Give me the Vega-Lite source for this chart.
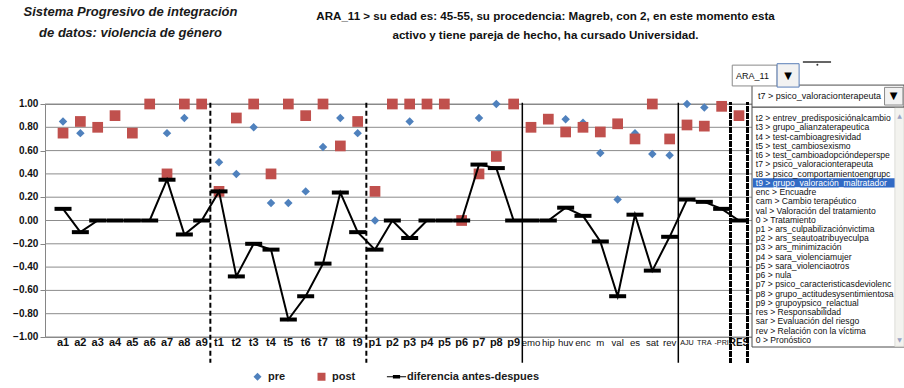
{
  "$schema": "https://vega.github.io/schema/vega-lite/v6.json",
  "width": 712,
  "height": 233,
  "autosize": {"type": "none"},
  "padding": {"left": 45, "top": 104, "right": 147, "bottom": 51},
  "background": "white",
  "config": {
    "font": "Liberation Sans",
    "view": {"stroke": "#868686", "strokeWidth": 1}
  },
  "datasets": {
    "puntuaciones": [
      {"cat": "a1", "pre": 0.85, "post": 0.75, "dif": 0.10},
      {"cat": "a2", "pre": 0.75, "post": 0.85, "dif": -0.10},
      {"cat": "a3", "pre": 0.80, "post": 0.80, "dif": 0},
      {"cat": "a4", "pre": 0.90, "post": 0.90, "dif": 0},
      {"cat": "a5", "pre": 0.75, "post": 0.75, "dif": 0},
      {"cat": "a6", "pre": 1.00, "post": 1.00, "dif": 0},
      {"cat": "a7", "pre": 0.75, "post": 0.40, "dif": 0.35},
      {"cat": "a8", "pre": 0.88, "post": 1.00, "dif": -0.12},
      {"cat": "a9", "pre": 1.00, "post": 1.00, "dif": 0},
      {"cat": "t1", "pre": 0.50, "post": 0.25, "dif": 0.25},
      {"cat": "t2", "pre": 0.40, "post": 0.88, "dif": -0.48},
      {"cat": "t3", "pre": 0.80, "post": 1.00, "dif": -0.20},
      {"cat": "t4", "pre": 0.15, "post": 0.40, "dif": -0.25},
      {"cat": "t5", "pre": 0.15, "post": 1.00, "dif": -0.85},
      {"cat": "t6", "pre": 0.25, "post": 0.90, "dif": -0.65},
      {"cat": "t7", "pre": 0.63, "post": 1.00, "dif": -0.37},
      {"cat": "t8", "pre": 0.88, "post": 0.64, "dif": 0.24},
      {"cat": "t9", "pre": 0.75, "post": 0.85, "dif": -0.10},
      {"cat": "p1", "pre": 0.00, "post": 0.25, "dif": -0.25},
      {"cat": "p2", "pre": 1.00, "post": 1.00, "dif": 0},
      {"cat": "p3", "pre": 0.85, "post": 1.00, "dif": -0.15},
      {"cat": "p4", "pre": 1.00, "post": 1.00, "dif": 0},
      {"cat": "p5", "pre": 1.00, "post": 1.00, "dif": 0},
      {"cat": "p6", "pre": 0.00, "post": 0.00, "dif": 0},
      {"cat": "p7", "pre": 0.88, "post": 0.40, "dif": 0.48},
      {"cat": "p8", "pre": 1.00, "post": 0.55, "dif": 0.45},
      {"cat": "p9", "pre": 1.00, "post": 1.00, "dif": 0},
      {"cat": "emo", "pre": 0.80, "post": 0.80, "dif": 0},
      {"cat": "hip", "pre": 0.87, "post": 0.87, "dif": 0},
      {"cat": "huv", "pre": 0.87, "post": 0.76, "dif": 0.11},
      {"cat": "enc", "pre": 0.84, "post": 0.80, "dif": 0.04},
      {"cat": "m", "pre": 0.58, "post": 0.76, "dif": -0.18},
      {"cat": "val", "pre": 0.18, "post": 0.83, "dif": -0.65},
      {"cat": "es", "pre": 0.75, "post": 0.70, "dif": 0.05},
      {"cat": "sat", "pre": 0.57, "post": 1.00, "dif": -0.43},
      {"cat": "rev", "pre": 0.56, "post": 0.70, "dif": -0.14},
      {"cat": "AJU", "pre": 1.00, "post": 0.82, "dif": 0.18},
      {"cat": "TRA", "pre": 0.97, "post": 0.81, "dif": 0.16},
      {"cat": "-PRI", "pre": null, "post": 0.98, "dif": 0.10},
      {"cat": "RES", "pre": 0.90, "post": 0.90, "dif": 0}
    ],
    "marcas": [
      {"marca": 1}, {"marca": 0.8}, {"marca": 0.6}, {"marca": 0.4}, {"marca": 0.2}, {"marca": 0},
      {"marca": -0.2}, {"marca": -0.4}, {"marca": -0.6}, {"marca": -0.8}, {"marca": -1}
    ],
    "items": [
      {"item": "t2 > entrev_predisposiciónalcambio"},
      {"item": "t3 > grupo_alianzaterapeutica"},
      {"item": "t4 > test-cambioagresividad"},
      {"item": "t5 > test_cambiosexismo"},
      {"item": "t6 > test_cambioadopcióndeperspe"},
      {"item": "t7 > psico_valoracionterapeuta"},
      {"item": "t8 > psico_comportamientoengrupc"},
      {"item": "t9 > grupo_valoración_maltratador"},
      {"item": "enc > Encuadre"},
      {"item": "cam > Cambio terapéutico"},
      {"item": "val > Valoración del tratamiento"},
      {"item": "0 > Tratamiento"},
      {"item": "p1 > ars_culpabilizaciónvictima"},
      {"item": "p2 > ars_seautoatribuyeculpa"},
      {"item": "p3 > ars_minimización"},
      {"item": "p4 > sara_violenciamujer"},
      {"item": "p5 > sara_violenciaotros"},
      {"item": "p6 > nula"},
      {"item": "p7 > psico_caracteristicasdeviolenc"},
      {"item": "p8 > grupo_actitudesysentimientosa"},
      {"item": "p9 > grupoypsico_relactual"},
      {"item": "res > Responsabilidad"},
      {"item": "sar > Evaluación del riesgo"},
      {"item": "rev > Relación con la víctima"},
      {"item": "0 > Pronóstico"}
    ]
  },
  "resolve": {
    "scale": {"x": "independent", "y": "independent"},
    "axis": {"x": "independent", "y": "independent"}
  },
  "layer": [
    {
      "data": {"name": "puntuaciones"},
      "layer": [
        {
          "data": {"name": "marcas"},
          "mark": {"type": "rule", "color": "#8c8c8c", "strokeWidth": 1},
          "encoding": {
            "x": {"value": 0},
            "x2": {"value": "width"},
            "y": {
              "field": "marca",
              "type": "quantitative",
              "scale": {"domain": [-1, 1], "nice": false, "zero": false},
              "axis": {
                "title": ["Sistema Progresivo de integración", "de datos: violencia de género"],
                "titleAngle": 0,
                "titleX": 85,
                "titleY": -99,
                "titleAlign": "center",
                "titleBaseline": "top",
                "titleLineHeight": 21,
                "titleFontSize": 13,
                "titleFontStyle": "italic",
                "titleFontWeight": "bold",
                "titleColor": "#1a1a1a",
                "values": [1, 0.8, 0.6, 0.4, 0.2, 0, -0.2, -0.4, -0.6, -0.8, -1],
                "labels": false,
                "tickSize": 5,
                "tickColor": "#868686",
                "domain": false,
                "grid": false
              }
            }
          }
        },
        {
          "data": {"name": "marcas"},
          "mark": {"type": "text", "align": "right", "baseline": "middle", "dx": -16, "fontSize": 10, "fontWeight": "bold", "color": "#111111"},
          "encoding": {
            "x": {"datum": "a1", "bandPosition": 0},
            "y": {"field": "marca", "type": "quantitative"},
            "text": {"field": "marca", "type": "quantitative", "format": ".2f"}
          }
        },
        {
          "transform": [{"fold": ["pre", "post"], "as": ["serie", "valor"]}],
          "mark": {"type": "point", "filled": true, "opacity": 1},
          "encoding": {
            "x": {
              "field": "cat",
              "type": "nominal",
              "scale": {
                "type": "band",
                "domain": ["a1", "a2", "a3", "a4", "a5", "a6", "a7", "a8", "a9", "t1", "t2", "t3", "t4", "t5", "t6", "t7", "t8", "t9", "p1", "p2", "p3", "p4", "p5", "p6", "p7", "p8", "p9", "emo", "hip", "huv", "enc", "m", "val", "es", "sat", "rev", "AJU", "TRA", "-PRI", "RES"],
                "paddingInner": 0,
                "paddingOuter": 0.54
              },
              "axis": {
                "bandPosition": 0.5,
                "title": ["ARA_11 > su edad es: 45-55,  su procedencia: Magreb, con 2, en este momento esta", "activo y tiene pareja de hecho, ha cursado Universidad."],
                "titleX": 500,
                "titleY": -327,
                "titleAlign": "center",
                "titleBaseline": "top",
                "titleLineHeight": 19,
                "titleFontSize": 11.6,
                "titleFontWeight": "bold",
                "titleColor": "#111111",
                "labelAngle": 0,
                "labelAlign": "center",
                "labelOverlap": false,
                "labelPadding": 5,
                "labelColor": "#111111",
                "labelFontSize": {"condition": [
                  {"test": "datum.value == 'AJU' || datum.value == 'TRA' || datum.value == '-PRI'", "value": 7.2},
                  {"test": "datum.value == 'emo' || datum.value == 'hip' || datum.value == 'huv' || datum.value == 'enc' || datum.value == 'm' || datum.value == 'val' || datum.value == 'es' || datum.value == 'sat' || datum.value == 'rev'", "value": 9.6},
                  {"test": "datum.value == 'RES'", "value": 10}
                ], "value": 11},
                "labelFontWeight": {"condition": {"test": "datum.value == 'emo' || datum.value == 'hip' || datum.value == 'huv' || datum.value == 'enc' || datum.value == 'm' || datum.value == 'val' || datum.value == 'es' || datum.value == 'sat' || datum.value == 'rev' || datum.value == 'AJU' || datum.value == 'TRA' || datum.value == '-PRI'", "value": "normal"}, "value": "bold"},
                "ticks": false,
                "grid": false,
                "domain": false
              }
            },
            "y": {"field": "valor", "type": "quantitative"},
            "color": {
              "field": "serie",
              "type": "nominal",
              "scale": {"domain": ["pre", "post", "diferencia antes-despues"], "range": ["#4f81bd", "#c0504d", "#000000"]},
              "legend": {"orient": "none", "legendX": 207, "legendY": 267, "direction": "horizontal", "title": null, "labelFontSize": 11, "labelFontWeight": "bold", "labelColor": "#1a1a1a", "symbolSize": 64, "labelOffset": 5, "columnPadding": 30}
            },
            "shape": {
              "field": "serie",
              "type": "nominal",
              "scale": {"domain": ["pre", "post", "diferencia antes-despues"], "range": ["diamond", "square", "M-2.4,-0.15H2.4V0.15H-2.4Z M-0.9,-0.45H0.9V0.45H-0.9Z"]},
              "legend": {"orient": "none", "legendX": 207, "legendY": 267, "direction": "horizontal", "title": null, "labelFontSize": 11, "labelFontWeight": "bold", "labelColor": "#1a1a1a", "symbolSize": 64, "labelOffset": 5, "columnPadding": 30}
            },
            "size": {"condition": {"test": "datum.serie == 'pre'", "value": 72}, "value": 115}
          }
        },
        {
          "data": {"values": [{"antes": "t1"}, {"antes": "p1"}]},
          "mark": {"type": "rule", "color": "#000000", "strokeWidth": 2, "strokeDash": [5, 3]},
          "encoding": {
            "x": {"field": "antes", "type": "nominal", "bandPosition": 0},
            "y": {"datum": 1.01, "type": "quantitative"},
            "y2": {"datum": -1.22}
          }
        },
        {
          "data": {"values": [{"antes": "emo"}, {"antes": "AJU"}]},
          "mark": {"type": "rule", "color": "#000000", "strokeWidth": 1.5},
          "encoding": {
            "x": {"field": "antes", "type": "nominal", "bandPosition": 0},
            "y": {"datum": 1.01, "type": "quantitative"},
            "y2": {"datum": -1.22}
          }
        },
        {
          "mark": {"type": "rule", "color": "#000000", "strokeWidth": 2, "strokeDash": [2, 1.5]},
          "encoding": {
            "x": {"datum": "RES", "bandPosition": 0},
            "y": {"datum": 1.01, "type": "quantitative"},
            "y2": {"datum": -1.22}
          }
        },
        {
          "mark": {"type": "rule", "color": "#000000", "strokeWidth": 2, "strokeDash": [2, 1.5]},
          "encoding": {
            "x": {"datum": "RES", "bandPosition": 1},
            "y": {"datum": 1.01, "type": "quantitative"},
            "y2": {"datum": -1.22}
          }
        },
        {
          "mark": {"type": "line", "color": "#000000", "strokeWidth": 2},
          "encoding": {
            "x": {"field": "cat", "type": "nominal"},
            "y": {"field": "dif", "type": "quantitative"}
          }
        },
        {
          "mark": {"type": "tick", "color": "#000000", "size": 17, "thickness": 4, "opacity": 1},
          "encoding": {
            "x": {"field": "cat", "type": "nominal"},
            "y": {"field": "dif", "type": "quantitative"}
          }
        }
      ]
    },
    {
      "data": {"values": [{}]},
      "encoding": {
        "x": {"datum": 0, "type": "quantitative", "scale": {"domain": [0, 1], "range": [707, 859], "nice": false, "zero": false}, "axis": null},
        "y": {"datum": 0, "type": "quantitative", "scale": {"domain": [0, 1], "range": [-42, 243], "nice": false, "zero": false}, "axis": null}
      },
      "layer": [
        {
          "mark": {"type": "rect", "fill": "white", "stroke": "#4d4d4d", "strokeWidth": 1},
          "encoding": {"x": {"datum": 0}, "x2": {"datum": 1}, "y": {"datum": 0.158}, "y2": {"datum": 1}}
        },
        {
          "mark": {"type": "rect", "fill": "#f3f3ef", "stroke": "#d6d6d0", "strokeWidth": 0.8},
          "encoding": {"x": {"datum": 0.94}, "x2": {"datum": 1}, "y": {"datum": 0.16}, "y2": {"datum": 0.998}}
        },
        {
          "mark": {"type": "text", "font": "DejaVu Sans", "fontSize": 6, "color": "#9aa3c4", "align": "center", "baseline": "middle"},
          "encoding": {"x": {"datum": 0.97}, "y": {"datum": 0.19}, "text": {"value": "▲"}}
        },
        {
          "mark": {"type": "text", "font": "DejaVu Sans", "fontSize": 6, "color": "#9aa3c4", "align": "center", "baseline": "middle"},
          "encoding": {"x": {"datum": 0.97}, "y": {"datum": 0.975}, "text": {"value": "▼"}}
        },
        {
          "mark": {"type": "rect", "fill": "white", "stroke": "#4d4d4d", "strokeWidth": 1},
          "encoding": {"x": {"datum": 0}, "x2": {"datum": 1}, "y": {"datum": 0.081}, "y2": {"datum": 0.158}}
        },
        {
          "mark": {"type": "rect", "fill": "#f2f2f2", "stroke": "#8a8a8a", "strokeWidth": 1},
          "encoding": {"x": {"datum": 0.872}, "x2": {"datum": 0.993}, "y": {"datum": 0.089}, "y2": {"datum": 0.151}}
        },
        {
          "mark": {"type": "text", "font": "DejaVu Sans", "fontSize": 10, "color": "#000000", "align": "center", "baseline": "middle"},
          "encoding": {"x": {"datum": 0.932}, "y": {"datum": 0.121}, "text": {"value": "▼"}}
        },
        {
          "mark": {"type": "text", "fontSize": 9, "color": "#111111", "align": "left", "baseline": "middle"},
          "encoding": {"x": {"datum": 0.04}, "y": {"datum": 0.121}, "text": {"value": "t7 > psico_valoracionterapeuta"}}
        },
        {
          "mark": {"type": "rect", "fill": "white", "stroke": "#8a8a8a", "strokeWidth": 1},
          "encoding": {"x": {"datum": -0.13}, "x2": {"datum": 0.165}, "y": {"datum": 0.011}, "y2": {"datum": 0.084}}
        },
        {
          "mark": {"type": "rect", "fill": "#f2f2f2", "stroke": "#5b7fb8", "strokeWidth": 1},
          "encoding": {"x": {"datum": 0.165}, "x2": {"datum": 0.31}, "y": {"datum": 0.006}, "y2": {"datum": 0.088}}
        },
        {
          "mark": {"type": "text", "font": "DejaVu Sans", "fontSize": 10, "color": "#000000", "align": "center", "baseline": "middle"},
          "encoding": {"x": {"datum": 0.237}, "y": {"datum": 0.048}, "text": {"value": "▼"}}
        },
        {
          "mark": {"type": "text", "fontSize": 9, "color": "#111111", "align": "left", "baseline": "middle"},
          "encoding": {"x": {"datum": -0.105}, "y": {"datum": 0.048}, "text": {"value": "ARA_11"}}
        },
        {
          "data": {"values": [{"linea": 0.0}, {"linea": 0.02}]},
          "mark": {"type": "rule", "color": "#333333", "strokeWidth": 1},
          "encoding": {"x": {"datum": 0.335}, "x2": {"datum": 0.52}, "y": {"field": "linea", "type": "quantitative"}}
        },
        {
          "mark": {"type": "point", "filled": true, "color": "#333333", "size": 4, "opacity": 1},
          "encoding": {"x": {"datum": 0.43}, "y": {"datum": 0.01}}
        }
      ]
    },
    {
      "data": {"name": "items"},
      "encoding": {
        "x": {"datum": 0, "type": "quantitative", "scale": {"domain": [0, 1], "range": [707, 859], "nice": false, "zero": false}, "axis": null},
        "y": {"field": "item", "type": "nominal", "sort": null, "scale": {"type": "band", "range": [9.4, 240.6], "paddingInner": 0, "paddingOuter": 0}, "axis": null}
      },
      "layer": [
        {
          "mark": {"type": "rect", "fill": "#316ac5"},
          "encoding": {
            "x": {"datum": 0.006},
            "x2": {"datum": 0.938},
            "opacity": {"condition": {"test": "datum.item == 't9 > grupo_valoración_maltratador'", "value": 1}, "value": 0}
          }
        },
        {
          "mark": {"type": "text", "fontSize": 8.6, "align": "left", "baseline": "middle"},
          "encoding": {
            "x": {"datum": 0.025},
            "text": {"field": "item"},
            "color": {"condition": {"test": "datum.item == 't9 > grupo_valoración_maltratador'", "value": "#ffffff"}, "value": "#111111"}
          }
        }
      ]
    }
  ]
}
